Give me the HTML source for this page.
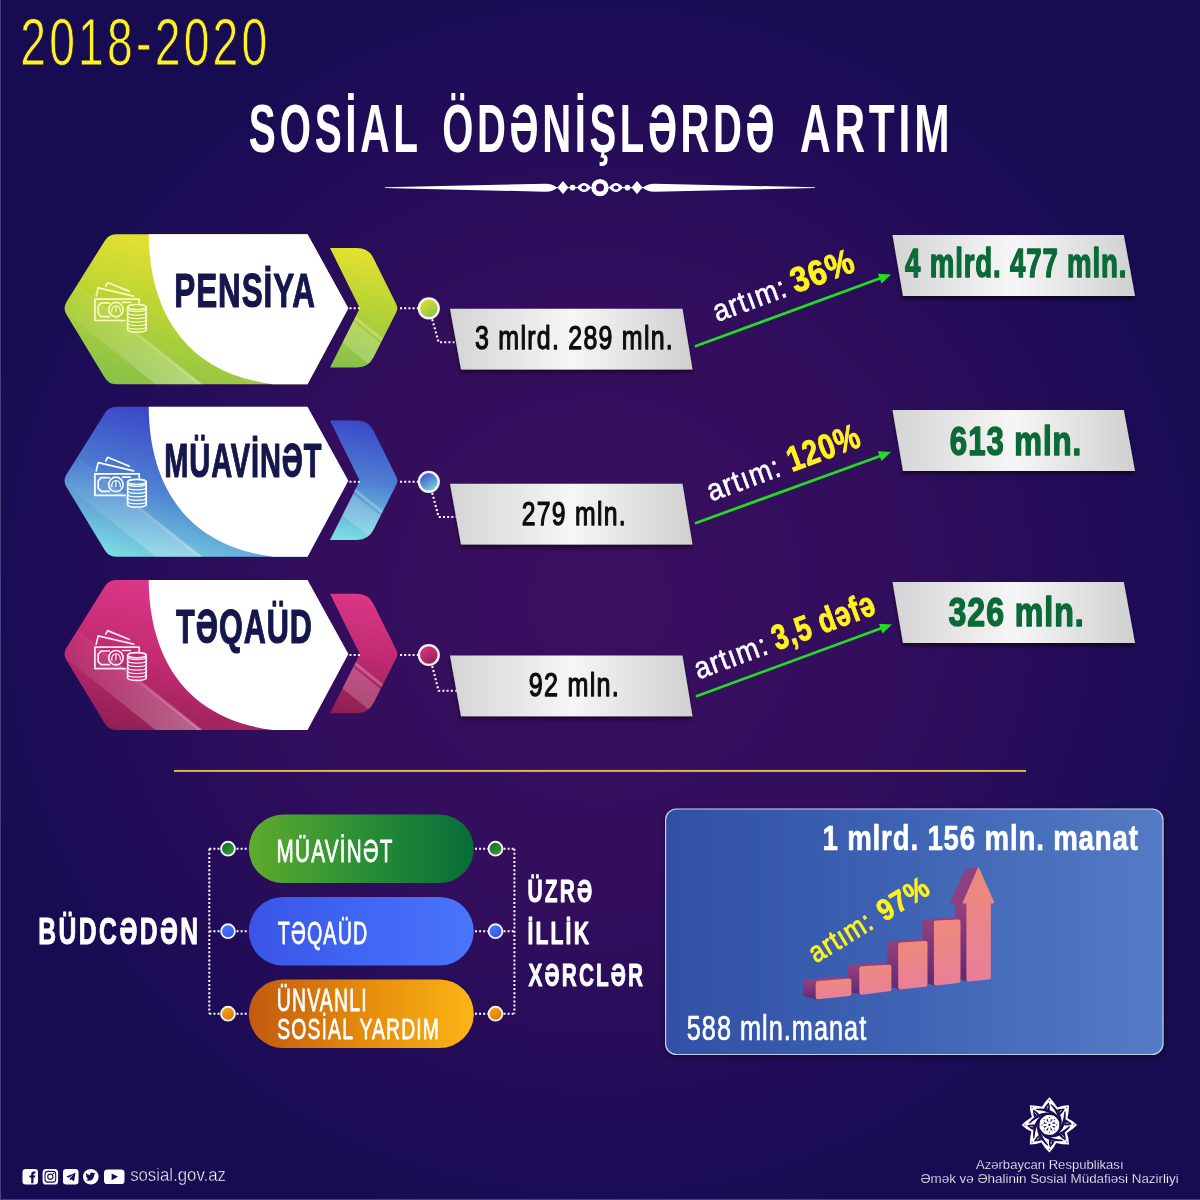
<!DOCTYPE html>
<html lang="az">
<head>
<meta charset="utf-8">
<title>Sosial ödənişlərdə artım 2018-2020</title>
<style>
html,body{margin:0;padding:0;background:#170c52;}
body{width:1200px;height:1200px;overflow:hidden;}
svg{display:block;font-family:"Liberation Sans", sans-serif;will-change:transform;}
text{white-space:pre;}
</style>
</head>
<body>
<svg width="1200" height="1200" viewBox="0 0 1200 1200">
<defs>
<radialGradient id="bg" gradientUnits="userSpaceOnUse" cx="600" cy="600" r="640">
<stop offset="0" stop-color="#3a0f60"/><stop offset="0.48" stop-color="#320e5d"/>
<stop offset="0.78" stop-color="#220c57"/><stop offset="0.9" stop-color="#1b0c55"/><stop offset="1" stop-color="#170c52"/></radialGradient>
<linearGradient id="gray" x1="0" y1="0" x2="1" y2="0"><stop offset="0" stop-color="#d4d4d5"/><stop offset="0.5" stop-color="#f6f6f6"/><stop offset="1" stop-color="#d0d0d1"/></linearGradient>
<filter id="sh" x="-10%" y="-30%" width="120%" height="170%"><feGaussianBlur in="SourceAlpha" stdDeviation="2.2"/><feOffset dx="0" dy="2.5"/><feComponentTransfer><feFuncA type="linear" slope="0.55"/></feComponentTransfer><feMerge><feMergeNode/><feMergeNode in="SourceGraphic"/></feMerge></filter>
<linearGradient id="hg1" gradientUnits="userSpaceOnUse" x1="150" y1="234.2" x2="110" y2="384.2"><stop offset="0" stop-color="#e6e230"/><stop offset="0.5" stop-color="#b6d335"/><stop offset="1" stop-color="#86c04b"/></linearGradient>
<linearGradient id="vg1" gradientUnits="userSpaceOnUse" x1="372" y1="247.2" x2="352" y2="368.2"><stop offset="0" stop-color="#e6e230"/><stop offset="0.5" stop-color="#b6d335"/><stop offset="1" stop-color="#86c04b"/></linearGradient>
<clipPath id="hc1"><path d="M116,234.2 L307.5,234.2 L348.3,308.2 L307.5,384.2 L116,384.2 Q108.5,384.2 104.5,377.2 L66.3,314.2 Q62.8,308.2 66.3,302.2 L104.5,241.2 Q108.5,234.2 116,234.2 Z"/></clipPath><clipPath id="cc1"><path d="M330,248.0 L357,248.0 Q368.5,248.0 373.5,258.2 L396.3,304.2 Q398.3,308.2 396.3,312.2 L373.5,357.2 Q368.5,367.4 357,367.4 L330,367.4 L359.8,308.2 Z"/></clipPath>
<linearGradient id="gl1" gradientUnits="userSpaceOnUse" x1="70" y1="294.2" x2="200" y2="384.2"><stop offset="0" stop-color="#fff" stop-opacity="0.02"/><stop offset="1" stop-color="#fff" stop-opacity="0.30"/></linearGradient>
<linearGradient id="cg1" x1="0.2" y1="0" x2="0.8" y2="1"><stop offset="0" stop-color="#e6e230"/><stop offset="1" stop-color="#86c04b"/></linearGradient>
<linearGradient id="hg2" gradientUnits="userSpaceOnUse" x1="150" y1="406.7" x2="110" y2="556.7"><stop offset="0" stop-color="#3a45c8"/><stop offset="0.5" stop-color="#4e80d1"/><stop offset="1" stop-color="#7ddfe2"/></linearGradient>
<linearGradient id="vg2" gradientUnits="userSpaceOnUse" x1="372" y1="419.7" x2="352" y2="540.7"><stop offset="0" stop-color="#3a45c8"/><stop offset="0.5" stop-color="#4e80d1"/><stop offset="1" stop-color="#7ddfe2"/></linearGradient>
<clipPath id="hc2"><path d="M116,406.7 L307.5,406.7 L348.3,480.7 L307.5,556.7 L116,556.7 Q108.5,556.7 104.5,549.7 L66.3,486.7 Q62.8,480.7 66.3,474.7 L104.5,413.7 Q108.5,406.7 116,406.7 Z"/></clipPath><clipPath id="cc2"><path d="M330,420.5 L357,420.5 Q368.5,420.5 373.5,430.7 L396.3,476.7 Q398.3,480.7 396.3,484.7 L373.5,529.7 Q368.5,539.9000000000001 357,539.9000000000001 L330,539.9000000000001 L359.8,480.7 Z"/></clipPath>
<linearGradient id="gl2" gradientUnits="userSpaceOnUse" x1="70" y1="466.7" x2="200" y2="556.7"><stop offset="0" stop-color="#fff" stop-opacity="0.02"/><stop offset="1" stop-color="#fff" stop-opacity="0.30"/></linearGradient>
<linearGradient id="cg2" x1="0.2" y1="0" x2="0.8" y2="1"><stop offset="0" stop-color="#3a45c8"/><stop offset="1" stop-color="#7ddfe2"/></linearGradient>
<linearGradient id="hg3" gradientUnits="userSpaceOnUse" x1="150" y1="580.0" x2="110" y2="730.0"><stop offset="0" stop-color="#dd3789"/><stop offset="0.5" stop-color="#c12b71"/><stop offset="1" stop-color="#8f1f51"/></linearGradient>
<linearGradient id="vg3" gradientUnits="userSpaceOnUse" x1="372" y1="593.0" x2="352" y2="714.0"><stop offset="0" stop-color="#dd3789"/><stop offset="0.5" stop-color="#c12b71"/><stop offset="1" stop-color="#8f1f51"/></linearGradient>
<clipPath id="hc3"><path d="M116,580.0 L307.5,580.0 L348.3,654.0 L307.5,730.0 L116,730.0 Q108.5,730.0 104.5,723.0 L66.3,660.0 Q62.8,654.0 66.3,648.0 L104.5,587.0 Q108.5,580.0 116,580.0 Z"/></clipPath><clipPath id="cc3"><path d="M330,593.8 L357,593.8 Q368.5,593.8 373.5,604.0 L396.3,650.0 Q398.3,654.0 396.3,658.0 L373.5,703.0 Q368.5,713.2 357,713.2 L330,713.2 L359.8,654.0 Z"/></clipPath>
<linearGradient id="gl3" gradientUnits="userSpaceOnUse" x1="70" y1="640.0" x2="200" y2="730.0"><stop offset="0" stop-color="#fff" stop-opacity="0.02"/><stop offset="1" stop-color="#fff" stop-opacity="0.30"/></linearGradient>
<linearGradient id="cg3" x1="0.2" y1="0" x2="0.8" y2="1"><stop offset="0" stop-color="#dd3789"/><stop offset="1" stop-color="#8f1f51"/></linearGradient>
<linearGradient id="gold" x1="0" y1="0" x2="0" y2="1"><stop offset="0" stop-color="#b8902e"/><stop offset="0.5" stop-color="#f0d968"/><stop offset="1" stop-color="#a57f28"/></linearGradient>
<linearGradient id="pg0" x1="0" y1="0" x2="1" y2="0"><stop offset="0" stop-color="#5fab2c"/><stop offset="0.5" stop-color="#2a8f36"/><stop offset="1" stop-color="#066c38"/></linearGradient>
<linearGradient id="dg0" x1="0.2" y1="0" x2="0.8" y2="1"><stop offset="0" stop-color="#0b6a2f"/><stop offset="1" stop-color="#3fa030"/></linearGradient>
<linearGradient id="pg1" x1="0" y1="0" x2="1" y2="0"><stop offset="0" stop-color="#3a55e6"/><stop offset="0.5" stop-color="#4066f4"/><stop offset="1" stop-color="#4974fb"/></linearGradient>
<linearGradient id="dg1" x1="0.2" y1="0" x2="0.8" y2="1"><stop offset="0" stop-color="#4b78ff"/><stop offset="1" stop-color="#3255e0"/></linearGradient>
<linearGradient id="pg2" x1="0" y1="0" x2="1" y2="0"><stop offset="0" stop-color="#c25a10"/><stop offset="0.5" stop-color="#e48a0c"/><stop offset="1" stop-color="#fbb515"/></linearGradient>
<linearGradient id="dg2" x1="0.2" y1="0" x2="0.8" y2="1"><stop offset="0" stop-color="#f7aa0c"/><stop offset="1" stop-color="#d87406"/></linearGradient>
<linearGradient id="bb" x1="0" y1="0" x2="1" y2="0"><stop offset="0" stop-color="#3150a6"/><stop offset="0.45" stop-color="#3d62b3"/><stop offset="1" stop-color="#547bc5"/></linearGradient>
<filter id="sh2" x="-5%" y="-5%" width="110%" height="112%"><feGaussianBlur in="SourceAlpha" stdDeviation="3"/><feOffset dx="0" dy="2"/><feComponentTransfer><feFuncA type="linear" slope="0.5"/></feComponentTransfer><feMerge><feMergeNode/><feMergeNode in="SourceGraphic"/></feMerge></filter>
<linearGradient id="bar" x1="0" y1="0" x2="0" y2="1"><stop offset="0" stop-color="#ee8a7c"/><stop offset="1" stop-color="#e87f98"/></linearGradient>
<linearGradient id="side" x1="0" y1="0" x2="0" y2="1"><stop offset="0" stop-color="#96407f"/><stop offset="1" stop-color="#5f2a72"/></linearGradient>
</defs>
<rect width="1200" height="1200" fill="url(#bg)"/>
<rect x="0" y="0" width="1" height="1200" fill="#4a3f7c"/><rect x="0" y="1199" width="1200" height="1" fill="#4a3f7c"/>
<text x="20.17" y="64.50" font-size="66.50" font-weight="normal" fill="#fff21f" textLength="250.37" lengthAdjust="spacingAndGlyphs" letter-spacing="4.655" stroke="#1a0c54" stroke-width="0.9" stroke-linejoin="round">2018-2020</text>
<text x="248.83" y="151.70" font-size="69.30" font-weight="bold" fill="#ffffff" textLength="172.76" lengthAdjust="spacingAndGlyphs" letter-spacing="6.237">SOSİAL</text>
<text x="442.36" y="151.70" font-size="69.30" font-weight="bold" fill="#ffffff" textLength="335.89" lengthAdjust="spacingAndGlyphs" letter-spacing="6.237">ÖDƏNİŞLƏRDƏ</text>
<text x="799.94" y="151.70" font-size="69.30" font-weight="bold" fill="#ffffff" textLength="153.41" lengthAdjust="spacingAndGlyphs" letter-spacing="6.237">ARTIM</text>
<g fill="#fff"><rect x="556" y="187.1" width="88" height="1.1"/><path d="M385,187.3 L385,188.1 L545,191.7 Q552.5,191.9 557.2,187.7 Q552.5,183.5 545,183.7 Z"/><path d="M815,187.3 L815,188.1 L655,191.7 Q647.5,191.9 642.8,187.7 Q647.5,183.5 655,183.7 Z"/><path d="M557.5,187.6 L563.0,181.1 L568.5,187.6 L563.0,194.29999999999998 Z"/><path d="M631.5,187.6 L637.0,181.1 L642.5,187.6 L637.0,194.29999999999998 Z"/><circle cx="572.6" cy="187.6" r="2.9"/><circle cx="627.4" cy="187.6" r="2.9"/></g>
<path d="M577,187.6 Q584,178.6 591,187.6 Q584,196.6 577,187.6 Z" fill="#fff"/>
<ellipse cx="584" cy="187.6" rx="2.6" ry="2.1" fill="#37105f"/>
<path d="M609,187.6 Q616,178.6 623,187.6 Q616,196.6 609,187.6 Z" fill="#fff"/>
<ellipse cx="616" cy="187.6" rx="2.6" ry="2.1" fill="#37105f"/>
<circle cx="600" cy="187.6" r="8.7" fill="#fff"/><circle cx="600" cy="187.6" r="4.0" fill="#37105f"/>
<path d="M116,234.2 L307.5,234.2 L348.3,308.2 L307.5,384.2 L116,384.2 Q108.5,384.2 104.5,377.2 L66.3,314.2 Q62.8,308.2 66.3,302.2 L104.5,241.2 Q108.5,234.2 116,234.2 Z" fill="url(#hg1)"/>
<g clip-path="url(#hc1)"><path d="M50,299.84 L260,467.84000000000003 L260,432.05999999999995 L50,264.06 Z" fill="url(#gl1)"/><path d="M50,265.64 L260,433.64 L260,430.04 L50,262.04 Z" fill="url(#gl1)"/></g>
<path d="M148.7,234.2 L307.5,234.2 L348.3,308.2 L307.5,384.2 L273.3,384.2 C189.4,373.9 149.3,316.5 148.7,234.2 Z" fill="#fff"/>
<path d="M330,248.0 L357,248.0 Q368.5,248.0 373.5,258.2 L396.3,304.2 Q398.3,308.2 396.3,312.2 L373.5,357.2 Q368.5,367.4 357,367.4 L330,367.4 L359.8,308.2 Z" fill="url(#vg1)"/>
<g clip-path="url(#cc1)"><path d="M320,294.8 L410,366.8 L410,396.8 L320,324.8 Z" fill="url(#gl1)" opacity="0.65"/><path d="M320,287.8 L410,359.8 L410,363.8 L320,291.8 Z" fill="#fff" opacity="0.25"/></g>
<g transform="translate(85,270.2)" fill="none" stroke="#fcf8c6" stroke-width="1.7" stroke-linejoin="round" stroke-linecap="round"><path d="M20.8,15.8 L22.6,12.3 L44.4,21.2"/><path d="M11.2,25.8 L13.2,17.6 L48.6,25.9"/><path d="M40.3,50.3 L9.9,50.3 L9.9,28.9 L54.2,28.9 L54.2,33"/><path d="M24.3,32.7 L16.2,32.7 L13.2,35.8 L13.2,43.3 L16.2,46.4 L24.3,46.4"/><path d="M37.6,32.2 L45.3,32.2"/><circle cx="30.9" cy="39.4" r="7.2"/><path d="M26.7,41.7 Q26.7,35.6 31,35.6 Q35.4,35.6 35.4,41.7 M30.9,36.8 L30.9,41.6" stroke-width="1.3"/><path d="M42.6,36.9 L42.6,59.6 Q42.6,62 51.9,62 Q61.2,62 61.2,59.6 L61.2,36.9 Z" fill="#a9ce38" stroke="none"/><ellipse cx="51.9" cy="36.9" rx="9.3" ry="2.6"/><path d="M42.6,36.9 L42.6,59.4 Q42.6,62 51.9,62 Q61.2,62 61.2,59.4 L61.2,36.9"/><path d="M42.6,38.8 Q42.6,41.4 51.9,41.4 Q61.2,41.4 61.2,38.8" stroke-width="1.25"/><path d="M42.6,42.3 Q42.6,44.9 51.9,44.9 Q61.2,44.9 61.2,42.3" stroke-width="1.25"/><path d="M42.6,45.8 Q42.6,48.4 51.9,48.4 Q61.2,48.4 61.2,45.8" stroke-width="1.25"/><path d="M42.6,49.3 Q42.6,51.9 51.9,51.9 Q61.2,51.9 61.2,49.3" stroke-width="1.25"/><path d="M42.6,52.8 Q42.6,55.4 51.9,55.4 Q61.2,55.4 61.2,52.8" stroke-width="1.25"/><path d="M42.6,56.3 Q42.6,58.9 51.9,58.9 Q61.2,58.9 61.2,56.3" stroke-width="1.25"/></g>
<text x="174.34" y="306.70" font-size="48.30" font-weight="bold" fill="#14174b" textLength="141.59" lengthAdjust="spacingAndGlyphs" letter-spacing="1.449" stroke="#14174b" stroke-width="1.2" stroke-linejoin="round">PENSİYA</text>
<path d="M349.5,308.3 L360,308.3 M400,308.3 L419,308.3" stroke="#fff" stroke-width="2.1" stroke-dasharray="2 2.2" fill="none"/>
<path d="M432.2,319.3 L438.6,342.2 L457,342.2" stroke="#fff" stroke-width="2.1" stroke-dasharray="2 2.2" fill="none"/>
<circle cx="428.8" cy="308.3" r="9.9" fill="url(#cg1)" stroke="#f5f3f7" stroke-width="2.4"/>
<path d="M450,308.8 L682.5,308.8 L692.5,369.6 L461,369.6 Z" fill="url(#gray)" filter="url(#sh)"/>
<text x="475.05" y="348.80" font-size="33.60" font-weight="normal" fill="#0d0d0d" textLength="198.98" lengthAdjust="spacingAndGlyphs" letter-spacing="1.680" stroke="#0d0d0d" stroke-width="1.25" stroke-linejoin="round">3 mlrd. 289 mln.</text>
<path d="M892.5,235.0 L1123.8,235.0 L1135,296.0 L903,296.0 Z" fill="url(#gray)" filter="url(#sh)"/>
<text x="905.08" y="277.00" font-size="41.20" font-weight="bold" fill="#0b6a37" textLength="222.15" lengthAdjust="spacingAndGlyphs" letter-spacing="1.236" stroke="#0b6a37" stroke-width="1.5" stroke-linejoin="round">4 mlrd. 477 mln.</text>
<path d="M696,346 L881.61,277.85" stroke="#20de22" stroke-width="2.7" stroke-linecap="round"/>
<path d="M891,274.4 L881.53,283.42 L877.94,273.65 Z" fill="#20de22"/>
<g transform="translate(718,321.8) rotate(-20.2)"><text x="-0.87" y="0.00" font-size="30.30" font-weight="normal" fill="#fff" textLength="76.99" lengthAdjust="spacingAndGlyphs" letter-spacing="1.212" stroke="#fff" stroke-width="0.6" stroke-linejoin="round">artım:</text><text x="82.57" y="0.00" font-size="35.00" font-weight="bold" fill="#fff21f" textLength="66.21" lengthAdjust="spacingAndGlyphs" letter-spacing="1.050" stroke="#fff21f" stroke-width="0.9" stroke-linejoin="round">36%</text></g>
<path d="M116,406.7 L307.5,406.7 L348.3,480.7 L307.5,556.7 L116,556.7 Q108.5,556.7 104.5,549.7 L66.3,486.7 Q62.8,480.7 66.3,474.7 L104.5,413.7 Q108.5,406.7 116,406.7 Z" fill="url(#hg2)"/>
<g clip-path="url(#hc2)"><path d="M50,472.34 L260,640.34 L260,604.56 L50,436.56 Z" fill="url(#gl2)"/><path d="M50,438.14 L260,606.14 L260,602.54 L50,434.54 Z" fill="url(#gl2)"/></g>
<path d="M148.7,406.7 L307.5,406.7 L348.3,480.7 L307.5,556.7 L273.3,556.7 C189.4,546.4 149.3,489.0 148.7,406.7 Z" fill="#fff"/>
<path d="M330,420.5 L357,420.5 Q368.5,420.5 373.5,430.7 L396.3,476.7 Q398.3,480.7 396.3,484.7 L373.5,529.7 Q368.5,539.9000000000001 357,539.9000000000001 L330,539.9000000000001 L359.8,480.7 Z" fill="url(#vg2)"/>
<g clip-path="url(#cc2)"><path d="M320,467.3 L410,539.3 L410,569.3000000000001 L320,497.30000000000007 Z" fill="url(#gl2)" opacity="0.65"/><path d="M320,460.3 L410,532.3 L410,536.3 L320,464.3 Z" fill="#fff" opacity="0.25"/></g>
<g transform="translate(85,445.0)" fill="none" stroke="#ffffff" stroke-width="1.7" stroke-linejoin="round" stroke-linecap="round"><path d="M20.8,15.8 L22.6,12.3 L44.4,21.2"/><path d="M11.2,25.8 L13.2,17.6 L48.6,25.9"/><path d="M40.3,50.3 L9.9,50.3 L9.9,28.9 L54.2,28.9 L54.2,33"/><path d="M24.3,32.7 L16.2,32.7 L13.2,35.8 L13.2,43.3 L16.2,46.4 L24.3,46.4"/><path d="M37.6,32.2 L45.3,32.2"/><circle cx="30.9" cy="39.4" r="7.2"/><path d="M26.7,41.7 Q26.7,35.6 31,35.6 Q35.4,35.6 35.4,41.7 M30.9,36.8 L30.9,41.6" stroke-width="1.3"/><path d="M42.6,36.9 L42.6,59.6 Q42.6,62 51.9,62 Q61.2,62 61.2,59.6 L61.2,36.9 Z" fill="#5795d5" stroke="none"/><ellipse cx="51.9" cy="36.9" rx="9.3" ry="2.6"/><path d="M42.6,36.9 L42.6,59.4 Q42.6,62 51.9,62 Q61.2,62 61.2,59.4 L61.2,36.9"/><path d="M42.6,38.8 Q42.6,41.4 51.9,41.4 Q61.2,41.4 61.2,38.8" stroke-width="1.25"/><path d="M42.6,42.3 Q42.6,44.9 51.9,44.9 Q61.2,44.9 61.2,42.3" stroke-width="1.25"/><path d="M42.6,45.8 Q42.6,48.4 51.9,48.4 Q61.2,48.4 61.2,45.8" stroke-width="1.25"/><path d="M42.6,49.3 Q42.6,51.9 51.9,51.9 Q61.2,51.9 61.2,49.3" stroke-width="1.25"/><path d="M42.6,52.8 Q42.6,55.4 51.9,55.4 Q61.2,55.4 61.2,52.8" stroke-width="1.25"/><path d="M42.6,56.3 Q42.6,58.9 51.9,58.9 Q61.2,58.9 61.2,56.3" stroke-width="1.25"/></g>
<text x="164.28" y="476.70" font-size="48.30" font-weight="bold" fill="#14174b" textLength="158.08" lengthAdjust="spacingAndGlyphs" letter-spacing="1.449" stroke="#14174b" stroke-width="1.2" stroke-linejoin="round">MÜAVİNƏT</text>
<path d="M349.5,481.8 L360,481.8 M400,481.8 L419,481.8" stroke="#fff" stroke-width="2.1" stroke-dasharray="2 2.2" fill="none"/>
<path d="M432.2,492.8 L438.6,517.0 L457,517.0" stroke="#fff" stroke-width="2.1" stroke-dasharray="2 2.2" fill="none"/>
<circle cx="428.8" cy="481.8" r="9.9" fill="url(#cg2)" stroke="#f5f3f7" stroke-width="2.4"/>
<path d="M450,483.8 L682.5,483.8 L692.5,544.6 L461,544.6 Z" fill="url(#gray)" filter="url(#sh)"/>
<text x="521.75" y="524.50" font-size="33.60" font-weight="normal" fill="#0d0d0d" textLength="105.05" lengthAdjust="spacingAndGlyphs" letter-spacing="1.680" stroke="#0d0d0d" stroke-width="1.25" stroke-linejoin="round">279 mln.</text>
<path d="M892.5,410.0 L1123.8,410.0 L1135,471.0 L903,471.0 Z" fill="url(#gray)" filter="url(#sh)"/>
<text x="949.86" y="455.00" font-size="41.20" font-weight="bold" fill="#0b6a37" textLength="132.22" lengthAdjust="spacingAndGlyphs" letter-spacing="1.236" stroke="#0b6a37" stroke-width="1.5" stroke-linejoin="round">613 mln.</text>
<path d="M696,523 L881.60,455.42" stroke="#20de22" stroke-width="2.7" stroke-linecap="round"/>
<path d="M891,452 L881.50,460.99 L877.95,451.22 Z" fill="#20de22"/>
<g transform="translate(712,501.3) rotate(-20.2)"><text x="-0.87" y="0.00" font-size="30.30" font-weight="normal" fill="#fff" textLength="76.99" lengthAdjust="spacingAndGlyphs" letter-spacing="1.212" stroke="#fff" stroke-width="0.6" stroke-linejoin="round">artım:</text><text x="85.21" y="0.00" font-size="35.00" font-weight="bold" fill="#fff21f" textLength="76.09" lengthAdjust="spacingAndGlyphs" letter-spacing="1.050" stroke="#fff21f" stroke-width="0.9" stroke-linejoin="round">120%</text></g>
<path d="M116,580.0 L307.5,580.0 L348.3,654.0 L307.5,730.0 L116,730.0 Q108.5,730.0 104.5,723.0 L66.3,660.0 Q62.8,654.0 66.3,648.0 L104.5,587.0 Q108.5,580.0 116,580.0 Z" fill="url(#hg3)"/>
<g clip-path="url(#hc3)"><path d="M50,645.64 L260,813.64 L260,777.86 L50,609.86 Z" fill="url(#gl3)"/><path d="M50,611.4399999999999 L260,779.4399999999999 L260,775.8399999999999 L50,607.8399999999999 Z" fill="url(#gl3)"/></g>
<path d="M148.7,580.0 L307.5,580.0 L348.3,654.0 L307.5,730.0 L273.3,730.0 C189.4,719.7 149.3,662.3 148.7,580.0 Z" fill="#fff"/>
<path d="M330,593.8 L357,593.8 Q368.5,593.8 373.5,604.0 L396.3,650.0 Q398.3,654.0 396.3,658.0 L373.5,703.0 Q368.5,713.2 357,713.2 L330,713.2 L359.8,654.0 Z" fill="url(#vg3)"/>
<g clip-path="url(#cc3)"><path d="M320,640.6 L410,712.6 L410,742.6 L320,670.6 Z" fill="url(#gl3)" opacity="0.65"/><path d="M320,633.6 L410,705.6 L410,709.6 L320,637.6 Z" fill="#fff" opacity="0.25"/></g>
<g transform="translate(85,618.3)" fill="none" stroke="#ffe9f4" stroke-width="1.7" stroke-linejoin="round" stroke-linecap="round"><path d="M20.8,15.8 L22.6,12.3 L44.4,21.2"/><path d="M11.2,25.8 L13.2,17.6 L48.6,25.9"/><path d="M40.3,50.3 L9.9,50.3 L9.9,28.9 L54.2,28.9 L54.2,33"/><path d="M24.3,32.7 L16.2,32.7 L13.2,35.8 L13.2,43.3 L16.2,46.4 L24.3,46.4"/><path d="M37.6,32.2 L45.3,32.2"/><circle cx="30.9" cy="39.4" r="7.2"/><path d="M26.7,41.7 Q26.7,35.6 31,35.6 Q35.4,35.6 35.4,41.7 M30.9,36.8 L30.9,41.6" stroke-width="1.3"/><path d="M42.6,36.9 L42.6,59.6 Q42.6,62 51.9,62 Q61.2,62 61.2,59.6 L61.2,36.9 Z" fill="#bd2c6f" stroke="none"/><ellipse cx="51.9" cy="36.9" rx="9.3" ry="2.6"/><path d="M42.6,36.9 L42.6,59.4 Q42.6,62 51.9,62 Q61.2,62 61.2,59.4 L61.2,36.9"/><path d="M42.6,38.8 Q42.6,41.4 51.9,41.4 Q61.2,41.4 61.2,38.8" stroke-width="1.25"/><path d="M42.6,42.3 Q42.6,44.9 51.9,44.9 Q61.2,44.9 61.2,42.3" stroke-width="1.25"/><path d="M42.6,45.8 Q42.6,48.4 51.9,48.4 Q61.2,48.4 61.2,45.8" stroke-width="1.25"/><path d="M42.6,49.3 Q42.6,51.9 51.9,51.9 Q61.2,51.9 61.2,49.3" stroke-width="1.25"/><path d="M42.6,52.8 Q42.6,55.4 51.9,55.4 Q61.2,55.4 61.2,52.8" stroke-width="1.25"/><path d="M42.6,56.3 Q42.6,58.9 51.9,58.9 Q61.2,58.9 61.2,56.3" stroke-width="1.25"/></g>
<text x="176.06" y="643.30" font-size="48.30" font-weight="bold" fill="#14174b" textLength="136.85" lengthAdjust="spacingAndGlyphs" letter-spacing="1.449" stroke="#14174b" stroke-width="1.2" stroke-linejoin="round">TƏQAÜD</text>
<path d="M349.5,655.0 L360,655.0 M400,655.0 L419,655.0" stroke="#fff" stroke-width="2.1" stroke-dasharray="2 2.2" fill="none"/>
<path d="M432.2,666.0 L438.6,690.8 L457,690.8" stroke="#fff" stroke-width="2.1" stroke-dasharray="2 2.2" fill="none"/>
<circle cx="428.8" cy="655.0" r="9.9" fill="url(#cg3)" stroke="#f5f3f7" stroke-width="2.4"/>
<path d="M450,655.5 L682.5,655.5 L692.5,716.3 L461,716.3 Z" fill="url(#gray)" filter="url(#sh)"/>
<text x="528.82" y="696.30" font-size="33.60" font-weight="normal" fill="#0d0d0d" textLength="91.23" lengthAdjust="spacingAndGlyphs" letter-spacing="1.680" stroke="#0d0d0d" stroke-width="1.25" stroke-linejoin="round">92 mln.</text>
<path d="M892.5,582.0 L1123.8,582.0 L1135,643.0 L903,643.0 Z" fill="url(#gray)" filter="url(#sh)"/>
<text x="948.56" y="626.30" font-size="41.20" font-weight="bold" fill="#0b6a37" textLength="136.11" lengthAdjust="spacingAndGlyphs" letter-spacing="1.236" stroke="#0b6a37" stroke-width="1.5" stroke-linejoin="round">326 mln.</text>
<path d="M697,696 L882.61,627.85" stroke="#20de22" stroke-width="2.7" stroke-linecap="round"/>
<path d="M892,624.4 L882.53,633.42 L878.94,623.65 Z" fill="#20de22"/>
<g transform="translate(699.2,679.2) rotate(-20.2)"><text x="-0.87" y="0.00" font-size="30.30" font-weight="normal" fill="#fff" textLength="76.99" lengthAdjust="spacingAndGlyphs" letter-spacing="1.212" stroke="#fff" stroke-width="0.6" stroke-linejoin="round">artım:</text><text x="82.98" y="0.00" font-size="35.00" font-weight="bold" fill="#fff21f" textLength="107.77" lengthAdjust="spacingAndGlyphs" letter-spacing="1.050" stroke="#fff21f" stroke-width="0.9" stroke-linejoin="round">3,5 dəfə</text></g>
<rect x="174" y="769.9" width="852" height="2.1" fill="url(#gold)"/>
<text x="38.35" y="943.80" font-size="37.80" font-weight="bold" fill="#fff" textLength="162.27" lengthAdjust="spacingAndGlyphs" letter-spacing="3.780" stroke="#fff" stroke-width="1.0" stroke-linejoin="round">BÜDCƏDƏN</text>
<path d="M209.3,848.7 L209.3,1013.7" stroke="#fff" stroke-width="2" stroke-dasharray="2 2.1" fill="none"/>
<path d="M514.4,848.7 L514.4,1013.7" stroke="#fff" stroke-width="2" stroke-dasharray="2 2.1" fill="none"/>
<path d="M209.3,848.7 L221,848.7 M236.5,848.7 L248,848.7 M475,848.7 L488,848.7 M503.5,848.7 L514.4,848.7" stroke="#fff" stroke-width="2" stroke-dasharray="2 2.1" fill="none"/>
<rect x="248.8" y="814.6" width="225" height="68.5" rx="34.25" fill="url(#pg0)"/>
<circle cx="228.0" cy="848.7" r="6.9" fill="url(#dg0)" stroke="#f4f2f7" stroke-width="1.9"/>
<circle cx="495.5" cy="848.7" r="6.9" fill="url(#dg0)" stroke="#f4f2f7" stroke-width="1.9"/>
<path d="M209.3,931.2 L221,931.2 M236.5,931.2 L248,931.2 M475,931.2 L488,931.2 M503.5,931.2 L514.4,931.2" stroke="#fff" stroke-width="2" stroke-dasharray="2 2.1" fill="none"/>
<rect x="248.8" y="897.0" width="225" height="68.5" rx="34.25" fill="url(#pg1)"/>
<circle cx="228.0" cy="931.2" r="6.9" fill="url(#dg1)" stroke="#f4f2f7" stroke-width="1.9"/>
<circle cx="495.5" cy="931.2" r="6.9" fill="url(#dg1)" stroke="#f4f2f7" stroke-width="1.9"/>
<path d="M209.3,1013.7 L221,1013.7 M236.5,1013.7 L248,1013.7 M475,1013.7 L488,1013.7 M503.5,1013.7 L514.4,1013.7" stroke="#fff" stroke-width="2" stroke-dasharray="2 2.1" fill="none"/>
<rect x="248.8" y="979.5" width="225" height="68.5" rx="34.25" fill="url(#pg2)"/>
<circle cx="228.0" cy="1013.7" r="6.9" fill="url(#dg2)" stroke="#f4f2f7" stroke-width="1.9"/>
<circle cx="495.5" cy="1013.7" r="6.9" fill="url(#dg2)" stroke="#f4f2f7" stroke-width="1.9"/>
<text x="276.52" y="862.30" font-size="32.00" font-weight="normal" fill="#fff" textLength="117.07" lengthAdjust="spacingAndGlyphs" letter-spacing="1.920" stroke="#fff" stroke-width="0.8" stroke-linejoin="round">MÜAVİNƏT</text>
<text x="277.76" y="944.30" font-size="32.00" font-weight="normal" fill="#fff" textLength="90.66" lengthAdjust="spacingAndGlyphs" letter-spacing="1.920" stroke="#fff" stroke-width="0.8" stroke-linejoin="round">TƏQAÜD</text>
<text x="276.72" y="1011.20" font-size="30.60" font-weight="normal" fill="#fff" textLength="91.10" lengthAdjust="spacingAndGlyphs" letter-spacing="1.836" stroke="#fff" stroke-width="0.8" stroke-linejoin="round">ÜNVANLI</text>
<text x="277.34" y="1039.20" font-size="29.60" font-weight="normal" fill="#fff" textLength="162.76" lengthAdjust="spacingAndGlyphs" letter-spacing="1.776" stroke="#fff" stroke-width="0.8" stroke-linejoin="round">SOSİAL YARDIM</text>
<text x="527.54" y="901.70" font-size="31.60" font-weight="bold" fill="#fff" textLength="66.72" lengthAdjust="spacingAndGlyphs" letter-spacing="3.160" stroke="#fff" stroke-width="0.9" stroke-linejoin="round">ÜZRƏ</text>
<text x="527.38" y="944.20" font-size="31.60" font-weight="bold" fill="#fff" textLength="63.74" lengthAdjust="spacingAndGlyphs" letter-spacing="3.160" stroke="#fff" stroke-width="0.9" stroke-linejoin="round">İLLİK</text>
<text x="528.62" y="985.80" font-size="31.60" font-weight="bold" fill="#fff" textLength="116.49" lengthAdjust="spacingAndGlyphs" letter-spacing="3.160" stroke="#fff" stroke-width="0.9" stroke-linejoin="round">XƏRCLƏR</text>
<rect x="665.6" y="809" width="497.4" height="245.5" rx="11" fill="url(#bb)" stroke="#c3cdec" stroke-width="1.2" filter="url(#sh2)"/>
<text x="822.46" y="850.00" font-size="35.60" font-weight="bold" fill="#fff" textLength="316.31" lengthAdjust="spacingAndGlyphs" letter-spacing="1.068" stroke="#fff" stroke-width="0.7" stroke-linejoin="round">1 mlrd. 156 mln. manat</text>
<text x="686.79" y="1039.50" font-size="34.20" font-weight="normal" fill="#fff" textLength="180.41" lengthAdjust="spacingAndGlyphs" letter-spacing="1.368" stroke="#fff" stroke-width="0.7" stroke-linejoin="round">588 mln.manat</text>
<path d="M955,903.3 L967,903.3 L967,981.2 L955,978.4 Z" fill="url(#side)"/>
<path d="M966,869 L977.9,867.8 L962.3,903.6 L949.5,903.3 Z" fill="#8f3f7e"/>
<path d="M977.9,867.8 Q978.6,867.2 979.3,868.6 L994,901.8 Q994.6,903.6 993,903.6 L990.8,903.6 L990.8,977.3 Q990.8,979.3 988.6,979.6 L968.6,981.5 Q966.4,981.7 966.4,979.6 L966.4,903.6 L962.3,903.6 Z" fill="url(#bar)"/>
<path d="M922.4,919.4 L935.9,920.3000000000001 L935.9,985.7 L922.4,982.3000000000001 Z" fill="url(#side)"/><path d="M922.4,919.4 L952.5,917.5 L959.5,919.8 L934.9,921.1 Z" fill="#93407f"/><path d="M933.9,922.8000000000001 Q933.9,920.6 936.1,920.5 L958.3,919.4 Q960.5,919.3 960.5,921.5 L960.5,980.6999999999999 Q960.5,982.9 958.3,983.0 L936.1,985.6 Q933.9,985.7 933.9,983.5 Z" fill="url(#bar)"/>
<path d="M887.2,941.4 L900.2,942.3000000000001 L900.2,989.7 L887.2,986.3000000000001 Z" fill="url(#side)"/><path d="M887.2,941.4 L919.5,939.0 L926.5,941.3 L899.2,943.1 Z" fill="#93407f"/><path d="M898.2,944.8000000000001 Q898.2,942.6 900.4000000000001,942.5 L925.3,940.9 Q927.5,940.8 927.5,943.0 L927.5,984.4 Q927.5,986.6 925.3,986.7 L900.4000000000001,989.6 Q898.2,989.7 898.2,987.5 Z" fill="url(#bar)"/>
<path d="M847.2,965.1999999999999 L861.3,966.1 L861.3,994.8 L847.2,991.4 Z" fill="url(#side)"/><path d="M847.2,965.1999999999999 L883.4,962.8000000000001 L890.4,965.1 L860.3,966.9 Z" fill="#93407f"/><path d="M859.3,968.6 Q859.3,966.4 861.5,966.3 L889.1999999999999,964.7 Q891.4,964.6 891.4,966.8000000000001 L891.4,989.0 Q891.4,991.2 889.1999999999999,991.3000000000001 L861.5,994.6999999999999 Q859.3,994.8 859.3,992.5999999999999 Z" fill="url(#bar)"/>
<path d="M803.2,979.8 L817.7,980.7 L817.7,999.4 L803.2,996.0 Z" fill="url(#side)"/><path d="M803.2,979.8 L843.4,976.5 L850.4,978.8 L816.7,981.5 Z" fill="#93407f"/><path d="M815.7,983.2 Q815.7,981.0 817.9000000000001,980.9 L849.1999999999999,978.4 Q851.4,978.3 851.4,980.5 L851.4,993.5999999999999 Q851.4,995.8 849.1999999999999,995.9 L817.9000000000001,999.3 Q815.7,999.4 815.7,997.1999999999999 Z" fill="url(#bar)"/>
<g transform="translate(816.5,963) rotate(-31.2)"><text x="-0.77" y="0.00" font-size="29.00" font-weight="normal" fill="#fdf21c" textLength="70.27" lengthAdjust="spacingAndGlyphs" letter-spacing="1.160" stroke="#fdf21c" stroke-width="0.9" stroke-linejoin="round">artım:</text><text x="79.37" y="0.00" font-size="30.00" font-weight="bold" fill="#fdf21c" textLength="56.14" lengthAdjust="spacingAndGlyphs" letter-spacing="0.900" stroke="#fdf21c" stroke-width="0.7" stroke-linejoin="round">97%</text></g>
<rect x="22.5" y="1169" width="15.5" height="15.5" rx="3.2" fill="#fff"/>
<path d="M31.2,1183.2 L31.2,1177.6 L29.4,1177.6 L29.4,1175.4 L31.2,1175.4 L31.2,1174 Q31.2,1171.4 33.9,1171.4 L35.4,1171.5 L35.4,1173.5 L34.4,1173.5 Q33.5,1173.5 33.5,1174.4 L33.5,1175.4 L35.3,1175.4 L35,1177.6 L33.5,1177.6 L33.5,1183.2 Z" fill="#1a0c53"/>
<rect x="42.6" y="1169" width="15.5" height="15.5" rx="3.6" fill="#fff"/>
<rect x="45" y="1171.4" width="10.7" height="10.7" rx="2.8" fill="none" stroke="#1a0c53" stroke-width="1.1"/>
<circle cx="50.35" cy="1176.75" r="2.6" fill="none" stroke="#1a0c53" stroke-width="1.1"/><circle cx="53.5" cy="1173.6" r="0.75" fill="#1a0c53"/>
<rect x="63" y="1169" width="15.5" height="15.5" rx="3.2" fill="#fff"/>
<path d="M66.3,1176.6 L75.6,1172.7 L74,1181.4 L71.2,1179.3 L69.9,1180.8 L69.7,1178.4 L73.6,1174.6 L68.8,1177.7 Z" fill="#1a0c53"/>
<circle cx="90.8" cy="1176.75" r="7.8" fill="#fff"/>
<path d="M95.4,1173.4 Q94.8,1173.8 94.1,1173.9 Q94.8,1173.4 95,1172.7 Q94.4,1173.1 93.6,1173.3 Q92.9,1172.5 91.9,1172.5 Q90,1172.6 90,1174.5 L90.1,1175 Q87.6,1174.9 86.1,1173 Q85.4,1174.7 86.8,1175.7 Q86.2,1175.7 85.8,1175.4 Q85.9,1177 87.5,1177.5 Q87,1177.6 86.6,1177.5 Q87,1178.8 88.5,1178.9 Q87.1,1180 85.5,1179.8 Q87,1180.8 88.9,1180.8 Q93.7,1180.6 94.3,1175 L94.3,1174.5 Q94.9,1174.1 95.4,1173.4 Z" fill="#1a0c53"/>
<rect x="104" y="1169.6" width="20.5" height="14.5" rx="3.4" fill="#fff"/>
<path d="M111.6,1173.4 L118,1176.85 L111.6,1180.3 Z" fill="#1a0c53"/>
<text x="130.14" y="1181.30" font-size="17.60" font-weight="normal" fill="#fff" textLength="95.89" lengthAdjust="spacingAndGlyphs" stroke="#1a0c53" stroke-width="0.45" stroke-linejoin="round">sosial.gov.az</text>
<g transform="translate(1049.4,1124.9)"><path d="M-8.00,-17.50 Q-4.70,-23.00 0.00,-27.70 Q4.70,-23.00 8.00,-17.50 Q12.94,-19.59 19.59,-19.59 Q19.59,-12.94 18.03,-6.72 Q23.00,-4.70 27.70,-0.00 Q23.00,4.70 17.50,8.00 Q19.59,12.94 19.59,19.59 Q12.94,19.59 6.72,18.03 Q4.70,23.00 0.00,27.70 Q-4.70,23.00 -8.00,17.50 Q-12.94,19.59 -19.59,19.59 Q-19.59,12.94 -18.03,6.72 Q-23.00,4.70 -27.70,0.00 Q-23.00,-4.70 -17.50,-8.00 Q-19.59,-12.94 -19.59,-19.59 Q-12.94,-19.59 -6.72,-18.03 Z" fill="#fff"/><g transform="rotate(0)"><path d="M1.47,-20.98 L2.65,-20.15 L3.74,-19.23 L4.73,-18.31 L5.65,-17.38 L6.48,-16.46 L7.25,-15.54 L7.95,-14.64 L8.59,-13.74 L9.17,-12.86 L9.70,-11.97 L10.17,-11.10 L10.60,-10.23 L10.97,-9.37 L11.30,-8.52 L11.59,-7.67 L11.82,-6.83 L12.02,-5.99 L12.17,-5.16 L12.27,-4.34 L12.33,-3.54 L12.34,-2.74 L12.32,-1.95 L12.25,-1.18 L12.13,-0.42 L11.98,0.31 L11.78,1.03 L11.53,1.72 L11.25,2.39 L10.91,3.03 L10.53,3.63 L10.09,4.18 L9.40,4.59 L9.40,4.59 L9.33,3.87 L9.44,3.25 L9.55,2.65 L9.65,2.05 L9.74,1.46 L9.80,0.86 L9.84,0.26 L9.87,-0.34 L9.87,-0.95 L9.85,-1.56 L9.81,-2.18 L9.75,-2.80 L9.67,-3.42 L9.57,-4.06 L9.44,-4.71 L9.29,-5.36 L9.12,-6.04 L8.92,-6.72 L8.69,-7.43 L8.44,-8.15 L8.15,-8.90 L7.83,-9.67 L7.47,-10.47 L7.06,-11.31 L6.61,-12.17 L6.10,-13.08 L5.53,-14.03 L4.88,-15.03 L4.16,-16.07 L3.34,-17.18 L2.42,-18.35 L1.38,-19.68 Z" fill="#1a0c53"/><path d="M-0.7,-22.6 C-2.8,-20.2 -4.8,-18.0 -5.6,-15.4 C-3.8,-16.2 -1.4,-15.6 0.2,-14.0 C0.8,-16.8 0.5,-19.8 -0.7,-22.6 Z" fill="#1a0c53"/><path d="M-1.9,-16.4 L-1.5,-19.2" stroke="#fff" stroke-width="0.7" fill="none"/><circle cx="0" cy="-24.5" r="0.6" fill="#1a0c53"/></g><g transform="rotate(45)"><path d="M1.47,-20.98 L2.65,-20.15 L3.74,-19.23 L4.73,-18.31 L5.65,-17.38 L6.48,-16.46 L7.25,-15.54 L7.95,-14.64 L8.59,-13.74 L9.17,-12.86 L9.70,-11.97 L10.17,-11.10 L10.60,-10.23 L10.97,-9.37 L11.30,-8.52 L11.59,-7.67 L11.82,-6.83 L12.02,-5.99 L12.17,-5.16 L12.27,-4.34 L12.33,-3.54 L12.34,-2.74 L12.32,-1.95 L12.25,-1.18 L12.13,-0.42 L11.98,0.31 L11.78,1.03 L11.53,1.72 L11.25,2.39 L10.91,3.03 L10.53,3.63 L10.09,4.18 L9.40,4.59 L9.40,4.59 L9.33,3.87 L9.44,3.25 L9.55,2.65 L9.65,2.05 L9.74,1.46 L9.80,0.86 L9.84,0.26 L9.87,-0.34 L9.87,-0.95 L9.85,-1.56 L9.81,-2.18 L9.75,-2.80 L9.67,-3.42 L9.57,-4.06 L9.44,-4.71 L9.29,-5.36 L9.12,-6.04 L8.92,-6.72 L8.69,-7.43 L8.44,-8.15 L8.15,-8.90 L7.83,-9.67 L7.47,-10.47 L7.06,-11.31 L6.61,-12.17 L6.10,-13.08 L5.53,-14.03 L4.88,-15.03 L4.16,-16.07 L3.34,-17.18 L2.42,-18.35 L1.38,-19.68 Z" fill="#1a0c53"/><path d="M-0.7,-22.6 C-2.8,-20.2 -4.8,-18.0 -5.6,-15.4 C-3.8,-16.2 -1.4,-15.6 0.2,-14.0 C0.8,-16.8 0.5,-19.8 -0.7,-22.6 Z" fill="#1a0c53"/><path d="M-1.9,-16.4 L-1.5,-19.2" stroke="#fff" stroke-width="0.7" fill="none"/><circle cx="0" cy="-24.5" r="0.6" fill="#1a0c53"/></g><g transform="rotate(90)"><path d="M1.47,-20.98 L2.65,-20.15 L3.74,-19.23 L4.73,-18.31 L5.65,-17.38 L6.48,-16.46 L7.25,-15.54 L7.95,-14.64 L8.59,-13.74 L9.17,-12.86 L9.70,-11.97 L10.17,-11.10 L10.60,-10.23 L10.97,-9.37 L11.30,-8.52 L11.59,-7.67 L11.82,-6.83 L12.02,-5.99 L12.17,-5.16 L12.27,-4.34 L12.33,-3.54 L12.34,-2.74 L12.32,-1.95 L12.25,-1.18 L12.13,-0.42 L11.98,0.31 L11.78,1.03 L11.53,1.72 L11.25,2.39 L10.91,3.03 L10.53,3.63 L10.09,4.18 L9.40,4.59 L9.40,4.59 L9.33,3.87 L9.44,3.25 L9.55,2.65 L9.65,2.05 L9.74,1.46 L9.80,0.86 L9.84,0.26 L9.87,-0.34 L9.87,-0.95 L9.85,-1.56 L9.81,-2.18 L9.75,-2.80 L9.67,-3.42 L9.57,-4.06 L9.44,-4.71 L9.29,-5.36 L9.12,-6.04 L8.92,-6.72 L8.69,-7.43 L8.44,-8.15 L8.15,-8.90 L7.83,-9.67 L7.47,-10.47 L7.06,-11.31 L6.61,-12.17 L6.10,-13.08 L5.53,-14.03 L4.88,-15.03 L4.16,-16.07 L3.34,-17.18 L2.42,-18.35 L1.38,-19.68 Z" fill="#1a0c53"/><path d="M-0.7,-22.6 C-2.8,-20.2 -4.8,-18.0 -5.6,-15.4 C-3.8,-16.2 -1.4,-15.6 0.2,-14.0 C0.8,-16.8 0.5,-19.8 -0.7,-22.6 Z" fill="#1a0c53"/><path d="M-1.9,-16.4 L-1.5,-19.2" stroke="#fff" stroke-width="0.7" fill="none"/><circle cx="0" cy="-24.5" r="0.6" fill="#1a0c53"/></g><g transform="rotate(135)"><path d="M1.47,-20.98 L2.65,-20.15 L3.74,-19.23 L4.73,-18.31 L5.65,-17.38 L6.48,-16.46 L7.25,-15.54 L7.95,-14.64 L8.59,-13.74 L9.17,-12.86 L9.70,-11.97 L10.17,-11.10 L10.60,-10.23 L10.97,-9.37 L11.30,-8.52 L11.59,-7.67 L11.82,-6.83 L12.02,-5.99 L12.17,-5.16 L12.27,-4.34 L12.33,-3.54 L12.34,-2.74 L12.32,-1.95 L12.25,-1.18 L12.13,-0.42 L11.98,0.31 L11.78,1.03 L11.53,1.72 L11.25,2.39 L10.91,3.03 L10.53,3.63 L10.09,4.18 L9.40,4.59 L9.40,4.59 L9.33,3.87 L9.44,3.25 L9.55,2.65 L9.65,2.05 L9.74,1.46 L9.80,0.86 L9.84,0.26 L9.87,-0.34 L9.87,-0.95 L9.85,-1.56 L9.81,-2.18 L9.75,-2.80 L9.67,-3.42 L9.57,-4.06 L9.44,-4.71 L9.29,-5.36 L9.12,-6.04 L8.92,-6.72 L8.69,-7.43 L8.44,-8.15 L8.15,-8.90 L7.83,-9.67 L7.47,-10.47 L7.06,-11.31 L6.61,-12.17 L6.10,-13.08 L5.53,-14.03 L4.88,-15.03 L4.16,-16.07 L3.34,-17.18 L2.42,-18.35 L1.38,-19.68 Z" fill="#1a0c53"/><path d="M-0.7,-22.6 C-2.8,-20.2 -4.8,-18.0 -5.6,-15.4 C-3.8,-16.2 -1.4,-15.6 0.2,-14.0 C0.8,-16.8 0.5,-19.8 -0.7,-22.6 Z" fill="#1a0c53"/><path d="M-1.9,-16.4 L-1.5,-19.2" stroke="#fff" stroke-width="0.7" fill="none"/><circle cx="0" cy="-24.5" r="0.6" fill="#1a0c53"/></g><g transform="rotate(180)"><path d="M1.47,-20.98 L2.65,-20.15 L3.74,-19.23 L4.73,-18.31 L5.65,-17.38 L6.48,-16.46 L7.25,-15.54 L7.95,-14.64 L8.59,-13.74 L9.17,-12.86 L9.70,-11.97 L10.17,-11.10 L10.60,-10.23 L10.97,-9.37 L11.30,-8.52 L11.59,-7.67 L11.82,-6.83 L12.02,-5.99 L12.17,-5.16 L12.27,-4.34 L12.33,-3.54 L12.34,-2.74 L12.32,-1.95 L12.25,-1.18 L12.13,-0.42 L11.98,0.31 L11.78,1.03 L11.53,1.72 L11.25,2.39 L10.91,3.03 L10.53,3.63 L10.09,4.18 L9.40,4.59 L9.40,4.59 L9.33,3.87 L9.44,3.25 L9.55,2.65 L9.65,2.05 L9.74,1.46 L9.80,0.86 L9.84,0.26 L9.87,-0.34 L9.87,-0.95 L9.85,-1.56 L9.81,-2.18 L9.75,-2.80 L9.67,-3.42 L9.57,-4.06 L9.44,-4.71 L9.29,-5.36 L9.12,-6.04 L8.92,-6.72 L8.69,-7.43 L8.44,-8.15 L8.15,-8.90 L7.83,-9.67 L7.47,-10.47 L7.06,-11.31 L6.61,-12.17 L6.10,-13.08 L5.53,-14.03 L4.88,-15.03 L4.16,-16.07 L3.34,-17.18 L2.42,-18.35 L1.38,-19.68 Z" fill="#1a0c53"/><path d="M-0.7,-22.6 C-2.8,-20.2 -4.8,-18.0 -5.6,-15.4 C-3.8,-16.2 -1.4,-15.6 0.2,-14.0 C0.8,-16.8 0.5,-19.8 -0.7,-22.6 Z" fill="#1a0c53"/><path d="M-1.9,-16.4 L-1.5,-19.2" stroke="#fff" stroke-width="0.7" fill="none"/><circle cx="0" cy="-24.5" r="0.6" fill="#1a0c53"/></g><g transform="rotate(225)"><path d="M1.47,-20.98 L2.65,-20.15 L3.74,-19.23 L4.73,-18.31 L5.65,-17.38 L6.48,-16.46 L7.25,-15.54 L7.95,-14.64 L8.59,-13.74 L9.17,-12.86 L9.70,-11.97 L10.17,-11.10 L10.60,-10.23 L10.97,-9.37 L11.30,-8.52 L11.59,-7.67 L11.82,-6.83 L12.02,-5.99 L12.17,-5.16 L12.27,-4.34 L12.33,-3.54 L12.34,-2.74 L12.32,-1.95 L12.25,-1.18 L12.13,-0.42 L11.98,0.31 L11.78,1.03 L11.53,1.72 L11.25,2.39 L10.91,3.03 L10.53,3.63 L10.09,4.18 L9.40,4.59 L9.40,4.59 L9.33,3.87 L9.44,3.25 L9.55,2.65 L9.65,2.05 L9.74,1.46 L9.80,0.86 L9.84,0.26 L9.87,-0.34 L9.87,-0.95 L9.85,-1.56 L9.81,-2.18 L9.75,-2.80 L9.67,-3.42 L9.57,-4.06 L9.44,-4.71 L9.29,-5.36 L9.12,-6.04 L8.92,-6.72 L8.69,-7.43 L8.44,-8.15 L8.15,-8.90 L7.83,-9.67 L7.47,-10.47 L7.06,-11.31 L6.61,-12.17 L6.10,-13.08 L5.53,-14.03 L4.88,-15.03 L4.16,-16.07 L3.34,-17.18 L2.42,-18.35 L1.38,-19.68 Z" fill="#1a0c53"/><path d="M-0.7,-22.6 C-2.8,-20.2 -4.8,-18.0 -5.6,-15.4 C-3.8,-16.2 -1.4,-15.6 0.2,-14.0 C0.8,-16.8 0.5,-19.8 -0.7,-22.6 Z" fill="#1a0c53"/><path d="M-1.9,-16.4 L-1.5,-19.2" stroke="#fff" stroke-width="0.7" fill="none"/><circle cx="0" cy="-24.5" r="0.6" fill="#1a0c53"/></g><g transform="rotate(270)"><path d="M1.47,-20.98 L2.65,-20.15 L3.74,-19.23 L4.73,-18.31 L5.65,-17.38 L6.48,-16.46 L7.25,-15.54 L7.95,-14.64 L8.59,-13.74 L9.17,-12.86 L9.70,-11.97 L10.17,-11.10 L10.60,-10.23 L10.97,-9.37 L11.30,-8.52 L11.59,-7.67 L11.82,-6.83 L12.02,-5.99 L12.17,-5.16 L12.27,-4.34 L12.33,-3.54 L12.34,-2.74 L12.32,-1.95 L12.25,-1.18 L12.13,-0.42 L11.98,0.31 L11.78,1.03 L11.53,1.72 L11.25,2.39 L10.91,3.03 L10.53,3.63 L10.09,4.18 L9.40,4.59 L9.40,4.59 L9.33,3.87 L9.44,3.25 L9.55,2.65 L9.65,2.05 L9.74,1.46 L9.80,0.86 L9.84,0.26 L9.87,-0.34 L9.87,-0.95 L9.85,-1.56 L9.81,-2.18 L9.75,-2.80 L9.67,-3.42 L9.57,-4.06 L9.44,-4.71 L9.29,-5.36 L9.12,-6.04 L8.92,-6.72 L8.69,-7.43 L8.44,-8.15 L8.15,-8.90 L7.83,-9.67 L7.47,-10.47 L7.06,-11.31 L6.61,-12.17 L6.10,-13.08 L5.53,-14.03 L4.88,-15.03 L4.16,-16.07 L3.34,-17.18 L2.42,-18.35 L1.38,-19.68 Z" fill="#1a0c53"/><path d="M-0.7,-22.6 C-2.8,-20.2 -4.8,-18.0 -5.6,-15.4 C-3.8,-16.2 -1.4,-15.6 0.2,-14.0 C0.8,-16.8 0.5,-19.8 -0.7,-22.6 Z" fill="#1a0c53"/><path d="M-1.9,-16.4 L-1.5,-19.2" stroke="#fff" stroke-width="0.7" fill="none"/><circle cx="0" cy="-24.5" r="0.6" fill="#1a0c53"/></g><g transform="rotate(315)"><path d="M1.47,-20.98 L2.65,-20.15 L3.74,-19.23 L4.73,-18.31 L5.65,-17.38 L6.48,-16.46 L7.25,-15.54 L7.95,-14.64 L8.59,-13.74 L9.17,-12.86 L9.70,-11.97 L10.17,-11.10 L10.60,-10.23 L10.97,-9.37 L11.30,-8.52 L11.59,-7.67 L11.82,-6.83 L12.02,-5.99 L12.17,-5.16 L12.27,-4.34 L12.33,-3.54 L12.34,-2.74 L12.32,-1.95 L12.25,-1.18 L12.13,-0.42 L11.98,0.31 L11.78,1.03 L11.53,1.72 L11.25,2.39 L10.91,3.03 L10.53,3.63 L10.09,4.18 L9.40,4.59 L9.40,4.59 L9.33,3.87 L9.44,3.25 L9.55,2.65 L9.65,2.05 L9.74,1.46 L9.80,0.86 L9.84,0.26 L9.87,-0.34 L9.87,-0.95 L9.85,-1.56 L9.81,-2.18 L9.75,-2.80 L9.67,-3.42 L9.57,-4.06 L9.44,-4.71 L9.29,-5.36 L9.12,-6.04 L8.92,-6.72 L8.69,-7.43 L8.44,-8.15 L8.15,-8.90 L7.83,-9.67 L7.47,-10.47 L7.06,-11.31 L6.61,-12.17 L6.10,-13.08 L5.53,-14.03 L4.88,-15.03 L4.16,-16.07 L3.34,-17.18 L2.42,-18.35 L1.38,-19.68 Z" fill="#1a0c53"/><path d="M-0.7,-22.6 C-2.8,-20.2 -4.8,-18.0 -5.6,-15.4 C-3.8,-16.2 -1.4,-15.6 0.2,-14.0 C0.8,-16.8 0.5,-19.8 -0.7,-22.6 Z" fill="#1a0c53"/><path d="M-1.9,-16.4 L-1.5,-19.2" stroke="#fff" stroke-width="0.7" fill="none"/><circle cx="0" cy="-24.5" r="0.6" fill="#1a0c53"/></g><circle r="8.8" fill="#fff"/><g transform="rotate(22.5)"><path d="M0,-2.4 L1.1,-6.6 L0,-5.5 L-1.1,-6.6 Z" fill="#1a0c53"/></g><g transform="rotate(0)"><circle cx="0" cy="-7.4" r="0.6" fill="#1a0c53"/></g><g transform="rotate(67.5)"><path d="M0,-2.4 L1.1,-6.6 L0,-5.5 L-1.1,-6.6 Z" fill="#1a0c53"/></g><g transform="rotate(45)"><circle cx="0" cy="-7.4" r="0.6" fill="#1a0c53"/></g><g transform="rotate(112.5)"><path d="M0,-2.4 L1.1,-6.6 L0,-5.5 L-1.1,-6.6 Z" fill="#1a0c53"/></g><g transform="rotate(90)"><circle cx="0" cy="-7.4" r="0.6" fill="#1a0c53"/></g><g transform="rotate(157.5)"><path d="M0,-2.4 L1.1,-6.6 L0,-5.5 L-1.1,-6.6 Z" fill="#1a0c53"/></g><g transform="rotate(135)"><circle cx="0" cy="-7.4" r="0.6" fill="#1a0c53"/></g><g transform="rotate(202.5)"><path d="M0,-2.4 L1.1,-6.6 L0,-5.5 L-1.1,-6.6 Z" fill="#1a0c53"/></g><g transform="rotate(180)"><circle cx="0" cy="-7.4" r="0.6" fill="#1a0c53"/></g><g transform="rotate(247.5)"><path d="M0,-2.4 L1.1,-6.6 L0,-5.5 L-1.1,-6.6 Z" fill="#1a0c53"/></g><g transform="rotate(225)"><circle cx="0" cy="-7.4" r="0.6" fill="#1a0c53"/></g><g transform="rotate(292.5)"><path d="M0,-2.4 L1.1,-6.6 L0,-5.5 L-1.1,-6.6 Z" fill="#1a0c53"/></g><g transform="rotate(270)"><circle cx="0" cy="-7.4" r="0.6" fill="#1a0c53"/></g><g transform="rotate(337.5)"><path d="M0,-2.4 L1.1,-6.6 L0,-5.5 L-1.1,-6.6 Z" fill="#1a0c53"/></g><g transform="rotate(315)"><circle cx="0" cy="-7.4" r="0.6" fill="#1a0c53"/></g><circle r="1.1" fill="#1a0c53"/></g>
<text x="975.97" y="1168.80" font-size="13.40" font-weight="normal" fill="#fff" textLength="147.57" lengthAdjust="spacingAndGlyphs" stroke="#1a0c53" stroke-width="0.25" stroke-linejoin="round">Azərbaycan Respublikası</text>
<text x="920.38" y="1182.50" font-size="13.40" font-weight="normal" fill="#fff" textLength="258.32" lengthAdjust="spacingAndGlyphs" stroke="#1a0c53" stroke-width="0.25" stroke-linejoin="round">Əmək və Əhalinin Sosial Müdafiəsi Nazirliyi</text>
</svg>
</body>
</html>
